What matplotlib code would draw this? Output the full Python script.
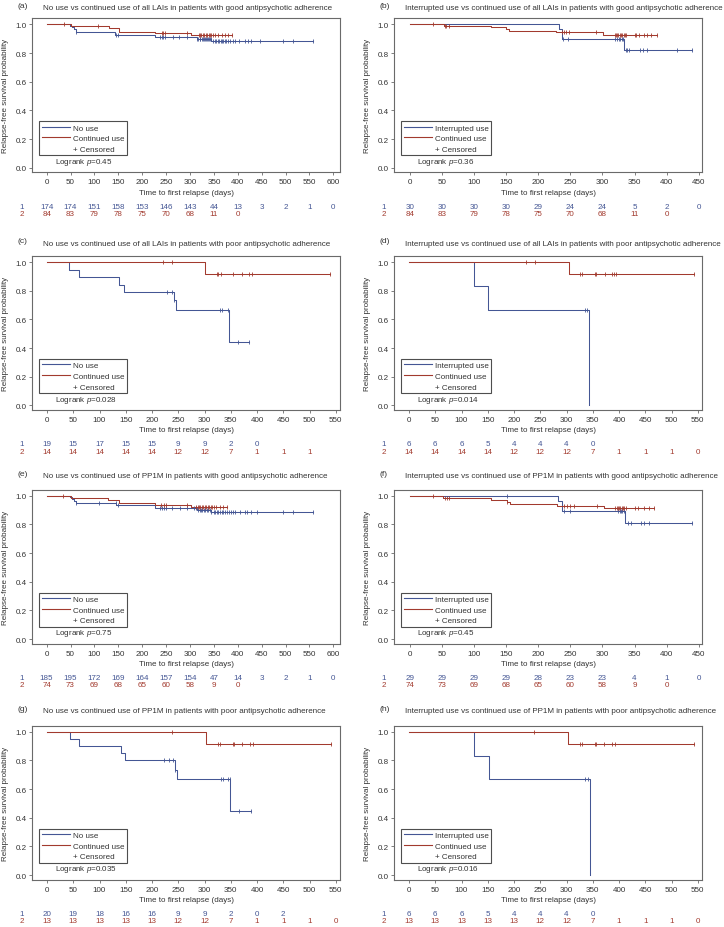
import numpy as np
import matplotlib
matplotlib.use("Agg")
import matplotlib.pyplot as plt
from matplotlib.lines import Line2D
from matplotlib import transforms

plt.rcParams['font.family'] = ['Liberation Sans', 'DejaVu Sans']
plt.rcParams['mathtext.fontset'] = 'custom'
plt.rcParams['mathtext.it'] = 'Liberation Sans:italic'
plt.rcParams['mathtext.rm'] = 'Liberation Sans'

BLUE = '#445694'
RED = '#A23A2E'
FRAME = '#6a6a6a'
TXT = '#333333'
FS = 5.8

# ---------------- data ----------------
titles = {
    'a': "No use vs continued use of all LAIs in patients with good antipsychotic adherence",
    'b': "Interrupted use vs continued use of all LAIs in patients with good antipsychotic adherence",
    'c': "No use vs continued use of all LAIs in patients with poor antipsychotic adherence",
    'd': "Interrupted use vs continued use of all LAIs in patients with poor antipsychotic adherence",
    'e': "No use vs continued use of PP1M in patients with good antipsychotic adherence",
    'f': "Interrupted use vs continued use of PP1M in patients with good antipsychotic adherence",
    'g': "No use vs continued use of PP1M in patients with poor antipsychotic adherence",
    'h': "Interrupted use vs continued use of PP1M in patients with poor antipsychotic adherence",
}
group1_labels = {'a': 'No use', 'b': 'Interrupted use', 'c': 'No use', 'd': 'Interrupted use',
                 'e': 'No use', 'f': 'Interrupted use', 'g': 'No use', 'h': 'Interrupted use'}
logrank_p = {'a': '0.45', 'b': '0.36', 'c': '0.028', 'd': '0.014',
             'e': '0.75', 'f': '0.45', 'g': '0.035', 'h': '0.016'}
xmax_tick = {'a': 600, 'b': 450, 'c': 550, 'd': 550, 'e': 600, 'f': 450, 'g': 550, 'h': 550}

# panel a
a_blue_t = [0, 49, 53, 57, 61, 143, 227, 314, 345]
a_blue_s = [1.0, 0.99, 0.978, 0.966, 0.946, 0.929, 0.912, 0.900, 0.884]
a_blue_c = [61, 145, 150, 237, 241, 244, 248, 265, 276, 293, 314, 317, 320, 322, 325, 327, 329, 331,
            333, 335, 337, 339, 341, 343, 349, 352, 355, 358, 361, 364, 367, 370, 373, 376, 380, 384,
            390, 395, 402, 415, 422, 428, 446, 495, 516, 558]
a_red_t = [0, 52, 130, 152, 227, 302]
a_red_s = [1.0, 0.986, 0.974, 0.949, 0.938, 0.925]
a_red_c = [36, 108, 241, 244, 248, 293, 318, 321, 324, 327, 330, 333, 336, 339, 342, 345, 349, 352,
           359, 366, 373, 380, 387]
a_risk1 = [174, 174, 151, 158, 153, 146, 143, 44, 13, 3, 2, 1, 0]
a_risk2 = [84, 83, 79, 78, 75, 70, 68, 11, 0]

# panel b
b_blue_t = [0, 232, 237, 333]
b_blue_s = [1.0, 0.965, 0.900, 0.823]
b_blue_c = [238, 246, 320, 323, 326, 328, 330, 332, 336, 338, 342, 358, 363, 369, 416, 440]
b_red_t = [0, 53, 126, 150, 154, 228, 301]
b_red_s = [1.0, 0.990, 0.979, 0.965, 0.952, 0.945, 0.928]
b_red_c = [37, 55, 57, 61, 237, 240, 244, 248, 290, 319, 321, 323, 325, 327, 329, 331, 333, 335,
           337, 350, 352, 357, 365, 370, 376, 385]
b_risk1 = [30, 30, 30, 30, 29, 24, 24, 5, 2, 0]
b_risk2 = [84, 83, 79, 78, 75, 70, 68, 11, 0]

# panel c
c_blue_t = [0, 42, 60, 137, 147, 241, 245, 347]
c_blue_s = [1.0, 0.947, 0.895, 0.842, 0.790, 0.733, 0.667, 0.445]
c_blue_c = [229, 239, 242, 330, 333, 344, 364, 385]
c_red_t = [0, 301]
c_red_s = [1.0, 0.917]
c_red_c = [220, 239, 323, 326, 331, 355, 371, 385, 390, 539]
c_risk1 = [19, 15, 17, 15, 15, 9, 9, 2, 0]
c_risk2 = [14, 14, 14, 14, 14, 12, 12, 7, 1, 1, 1]

# panel d
d_blue_t = [0, 124, 151, 343]
d_blue_s = [1.0, 0.833, 0.667, 0.0]
d_blue_c = [335, 339]
d_red_t = [0, 305]
d_red_s = [1.0, 0.917]
d_red_c = [222, 240, 325, 330, 354, 357, 373, 386, 390, 395, 542]
d_risk1 = [6, 6, 6, 5, 4, 4, 4, 0]
d_risk2 = [14, 14, 14, 14, 12, 12, 12, 7, 1, 1, 1, 0]

# panel e
e_blue_t = [0, 49, 53, 57, 61, 146, 227, 314, 345]
e_blue_s = [1.0, 0.99, 0.978, 0.963, 0.946, 0.934, 0.912, 0.902, 0.886]
e_blue_c = [61, 110, 145, 150, 237, 241, 245, 249, 263, 280, 293, 308, 312, 316, 320, 323, 326, 329,
            332, 335, 338, 341, 345, 350, 353, 356, 359, 362, 366, 370, 374, 378, 382, 386, 390, 395,
            405, 415, 420, 428, 440, 495, 516, 558]
e_red_t = [0, 52, 129, 152, 227, 303]
e_red_s = [1.0, 0.986, 0.971, 0.946, 0.933, 0.919]
e_red_c = [35, 240, 245, 250, 293, 313, 316, 319, 322, 325, 328, 331, 334, 337, 340, 343, 346, 350,
           355, 362, 370, 377]
e_risk1 = [185, 195, 172, 169, 164, 157, 154, 47, 14, 3, 2, 1, 0]
e_risk2 = [74, 73, 69, 68, 65, 60, 58, 9, 0]

# panel f
f_blue_t = [0, 231, 237, 335]
f_blue_s = [1.0, 0.965, 0.890, 0.810]
f_blue_c = [152, 240, 250, 325, 327, 329, 331, 333, 340, 345, 360, 365, 373, 440]
f_red_t = [0, 52, 127, 151, 156, 230, 302]
f_red_s = [1.0, 0.986, 0.972, 0.957, 0.944, 0.930, 0.913]
f_red_c = [37, 55, 58, 61, 152, 240, 245, 250, 255, 292, 320, 322, 324, 326, 328, 330, 332, 334, 336,
           350, 355, 365, 372, 380]
f_risk1 = [29, 29, 29, 29, 28, 23, 23, 4, 1, 0]
f_risk2 = [74, 73, 69, 68, 65, 60, 58, 9, 0]

# panel g
g_blue_t = [0, 43, 60, 140, 148, 243, 248, 349]
g_blue_s = [1.0, 0.950, 0.900, 0.850, 0.800, 0.733, 0.667, 0.444]
g_blue_c = [222, 232, 240, 244, 332, 335, 345, 348, 365, 388]
g_red_t = [0, 303]
g_red_s = [1.0, 0.917]
g_red_c = [239, 326, 330, 354, 357, 372, 386, 392, 541]
g_risk1 = [20, 19, 18, 16, 16, 9, 9, 2, 0, 2]
g_risk2 = [13, 13, 13, 13, 13, 12, 12, 7, 1, 1, 1, 0]

# panel h
h_blue_t = [0, 123, 153, 344]
h_blue_s = [1.0, 0.833, 0.667, 0.0]
h_blue_c = [335, 340]
h_red_t = [0, 303]
h_red_s = [1.0, 0.917]
h_red_c = [239, 326, 330, 354, 357, 372, 386, 392, 542]
h_risk1 = [6, 6, 6, 5, 4, 4, 4, 0]
h_risk2 = [13, 13, 13, 13, 13, 12, 12, 7, 1, 1, 1, 0]

panels = {
    'a': (a_blue_t, a_blue_s, a_blue_c, a_red_t, a_red_s, a_red_c, a_risk1, a_risk2),
    'b': (b_blue_t, b_blue_s, b_blue_c, b_red_t, b_red_s, b_red_c, b_risk1, b_risk2),
    'c': (c_blue_t, c_blue_s, c_blue_c, c_red_t, c_red_s, c_red_c, c_risk1, c_risk2),
    'd': (d_blue_t, d_blue_s, d_blue_c, d_red_t, d_red_s, d_red_c, d_risk1, d_risk2),
    'e': (e_blue_t, e_blue_s, e_blue_c, e_red_t, e_red_s, e_red_c, e_risk1, e_risk2),
    'f': (f_blue_t, f_blue_s, f_blue_c, f_red_t, f_red_s, f_red_c, f_risk1, f_risk2),
    'g': (g_blue_t, g_blue_s, g_blue_c, g_red_t, g_red_s, g_red_c, g_risk1, g_risk2),
    'h': (h_blue_t, h_blue_s, h_blue_c, h_red_t, h_red_s, h_red_c, h_risk1, h_risk2),
}

# ---------------- layout (pixels) ----------------
W, H = 724, 928
fig = plt.figure(figsize=(W / 100, H / 100), dpi=100)
col_left = [32.3, 394.3]
ax_w = 307.7
row_top = [19.3, 257.0, 490.7, 726.7]
ax_h = 154.0
title_y = [9.0, 244.3, 477.0, 711.7]
order = ['a', 'b', 'c', 'd', 'e', 'f', 'g', 'h']


def km_curve(ax, t, s, cens, color):
    t = np.asarray(t, float)
    s = np.asarray(s, float)
    cens = np.asarray(cens, float)
    tend = max(t.max(), cens.max() if cens.size else 0)
    xs = np.append(t, tend)
    ys = np.append(s, s[-1])
    ax.step(xs, ys, where='post', color=color, lw=0.75, zorder=3)
    if cens.size:
        idx = np.searchsorted(t, cens, side='right') - 1
        ax.plot(cens, s[idx], linestyle='none', marker='|', ms=3.2, mew=0.6,
                color=color, zorder=4)


for i, key in enumerate(order):
    r, c = divmod(i, 2)
    left = col_left[c]
    top = row_top[r]
    ax = fig.add_axes([left / W, 1 - (top + ax_h) / H, ax_w / W, ax_h / H])
    bt, bs, bc, rt, rs, rc, risk1, risk2 = panels[key]
    km_curve(ax, bt, bs, bc, BLUE)
    km_curve(ax, rt, rs, rc, RED)

    xm = xmax_tick[key]
    if xm == 600:
        ax.set_xlim(-30, 614)
    elif xm == 450:
        ax.set_xlim(-24, 455)
    else:
        ax.set_xlim(-28, 558)
    ax.set_ylim(-0.032, 1.042)
    xt = np.arange(0, xm + 1, 50)
    ax.set_xticks(xt)
    ax.set_yticks([0.0, 0.2, 0.4, 0.6, 0.8, 1.0])
    ax.set_yticklabels(['0.0', '0.2', '0.4', '0.6', '0.8', '1.0'])
    ax.tick_params(axis='both', direction='out', length=2.2, width=0.6, color=FRAME,
                   labelsize=FS, labelcolor=TXT, pad=1.6)
    ax.tick_params(axis='x', pad=2.0)
    for sp in ax.spines.values():
        sp.set_color(FRAME)
        sp.set_linewidth(0.8)

    ax.set_xlabel('Time to first relapse (days)', fontsize=FS, color=TXT)
    ax.xaxis.label.set_va('center')
    ax.xaxis.set_label_coords(0.5, -(193 - 173.3) / ax_h)
    ax.set_ylabel('Relapse-free survival probability', fontsize=FS, color=TXT)
    ax.yaxis.label.set_va('center')
    ax.yaxis.set_label_coords(-27.0 / ax_w, 0.5)

    # legend
    handles = [Line2D([], [], color=BLUE, lw=0.8),
               Line2D([], [], color=RED, lw=0.8),
               Line2D([], [], color='none')]
    labels = [group1_labels[key], 'Continued use', '+ Censored']
    leg = ax.legend(handles, labels, loc='lower left', bbox_to_anchor=(0.023, 0.11),
                    fontsize=FS, frameon=True, fancybox=False, handlelength=3.5,
                    handletextpad=0.33, borderpad=0.3, labelspacing=0.38,
                    borderaxespad=0.0)
    leg.get_frame().set_edgecolor('#222222')
    leg.get_frame().set_linewidth(0.8)
    for txt in leg.get_texts():
        txt.set_color(TXT)
    leg.set_zorder(5)

    ax.text(0.075, 0.07, 'Logrank $p$=' + logrank_p[key], transform=ax.transAxes,
            fontsize=FS, color=TXT, va='center', ha='left')

    # at-risk table
    trans = transforms.blended_transform_factory(ax.transData, ax.transAxes)
    y1 = -34.0 / ax_h
    y2 = -41.0 / ax_h
    for xv, n in zip(xt, risk1):
        ax.text(xv, y1, str(n), transform=trans, ha='center', va='center',
                fontsize=FS, color=BLUE, clip_on=False)
    for xv, n in zip(xt, risk2):
        ax.text(xv, y2, str(n), transform=trans, ha='center', va='center',
                fontsize=FS, color=RED, clip_on=False)
    ax.text(-0.033, y1, '1', transform=ax.transAxes, ha='center', va='center',
            fontsize=FS, color=BLUE, clip_on=False)
    ax.text(-0.033, y2, '2', transform=ax.transAxes, ha='center', va='center',
            fontsize=FS, color=RED, clip_on=False)

    # titles
    base_x = 0 if c == 0 else 362
    fig.text((base_x + 43) / W, 1 - title_y[r] / H, titles[key], fontsize=FS, color=TXT,
             ha='left', va='center')
    fig.text((base_x + 17) / W, 1 - (title_y[r] - 2.5) / H, '(' + key + ')', fontsize=FS + 0.3,
             color=TXT, ha='left', va='center')

fig.savefig('out.png', dpi=100)
